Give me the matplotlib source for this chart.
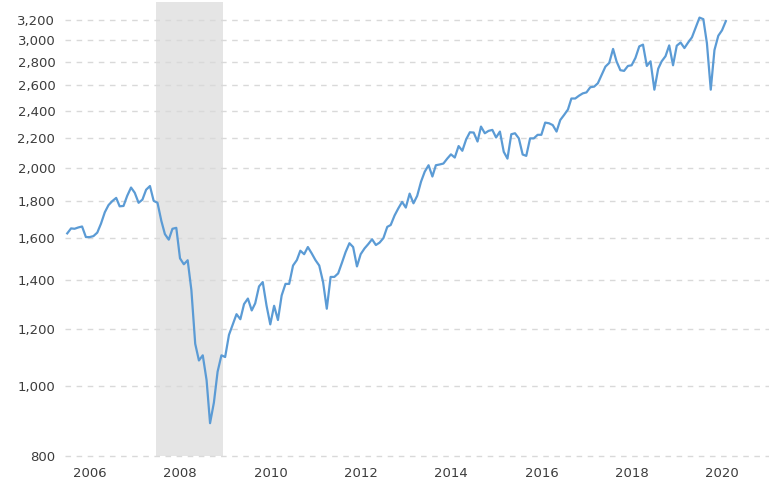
import matplotlib
matplotlib.use("Agg")
import matplotlib.pyplot as plt
import matplotlib.dates as mdates
import matplotlib.ticker as mticker
import pandas as pd

# Monthly values (month-end), Dec 2005 .. Jul 2020
start_month = "2005-12-31"
values = [
    1624, 1650, 1648, 1655, 1660, 1605, 1605, 1610, 1628, 1675, 1737, 1777,   # Dec05-Nov06
    1800, 1818, 1770, 1772, 1830, 1879, 1848, 1790, 1808, 1866, 1888, 1801,   # Dec06-Nov07
    1790, 1690, 1620, 1592, 1648, 1653, 1500, 1472, 1491, 1356, 1143, 1084,   # Dec07-Nov08
    1102, 1018, 888, 948, 1046, 1102, 1096, 1176, 1216, 1256, 1236, 1297,     # Dec08-Nov09
    1320, 1271, 1300, 1372, 1391, 1290, 1216, 1290, 1233, 1333, 1383, 1383,   # Dec09-Nov10
    1466, 1492, 1537, 1520, 1555, 1524, 1492, 1466, 1391, 1278, 1414, 1414,   # Dec10-Nov11
    1430, 1480, 1530, 1574, 1555, 1462, 1520, 1548, 1570, 1594, 1565, 1577,   # Dec11-Nov12
    1600, 1658, 1668, 1719, 1758, 1795, 1763, 1843, 1787, 1830, 1914, 1976,   # Dec12-Nov13
    2017, 1946, 2017, 2022, 2028, 2060, 2088, 2067, 2144, 2112, 2190, 2240,   # Dec13-Nov14
    2238, 2175, 2281, 2233, 2250, 2257, 2203, 2245, 2105, 2060, 2226, 2233,   # Dec14-Nov15
    2197, 2087, 2078, 2197, 2197, 2222, 2222, 2310, 2305, 2292, 2245, 2329,   # Dec15-Nov16
    2367, 2408, 2494, 2494, 2516, 2535, 2543, 2585, 2590, 2618, 2690, 2760,   # Dec16-Nov17
    2793, 2920, 2807, 2729, 2723, 2766, 2772, 2838, 2944, 2960, 2766, 2807,   # Dec17-Nov18
    2565, 2742, 2807, 2853, 2953, 2772, 2950, 2980, 2928, 2980, 3030, 3125,   # Dec18-Nov19
    3226, 3210, 2973, 2565, 2910, 3045, 3098, 3190,                           # Dec19-Jul20
]
dates = pd.date_range(start=start_month, periods=len(values), freq="ME")

recession_start = "2007-12-15"
recession_end = "2009-06-12"

y_ticks = [800, 1000, 1200, 1400, 1600, 1800, 2000, 2200, 2400, 2600, 2800, 3000, 3200]
x_tick_years = [2006, 2008, 2010, 2012, 2014, 2016, 2018, 2020]

fig = plt.figure(figsize=(7.69, 4.90), dpi=100)
ax = fig.add_axes([65 / 769, 34 / 490, 704 / 769, 454 / 490])

ax.axvspan(pd.Timestamp(recession_start), pd.Timestamp(recession_end),
           color="#e5e5e5", lw=0, zorder=0)
ax.plot(dates, values, color="#5b9bd5", lw=1.6, zorder=3)

ax.set_yscale("log")
ax.set_ylim(800, 3390)
ax.yaxis.set_major_locator(mticker.FixedLocator(y_ticks))
ax.yaxis.set_minor_locator(mticker.NullLocator())
ax.yaxis.set_major_formatter(mticker.FuncFormatter(lambda v, p: f"{v:,.0f}"))

ax.set_xlim(pd.Timestamp("2005-12-13"), pd.Timestamp("2021-07-15"))
ax.set_xticks([pd.Timestamp(f"{y}-07-01") for y in x_tick_years])
ax.set_xticklabels([str(y) for y in x_tick_years])

for s in ax.spines.values():
    s.set_visible(False)
ax.tick_params(axis="both", length=0, labelsize=9.5, colors="#3c3c3c")
ax.tick_params(axis="y", pad=7)
ax.tick_params(axis="x", pad=8)
ax.grid(axis="y", color="#d9d9d9", lw=1, linestyle=(0, (4, 4)), zorder=1)
ax.grid(axis="x", visible=False)
for gl in ax.get_ygridlines():
    gl.set_clip_on(False)

fig.savefig("out.png", dpi=100)
